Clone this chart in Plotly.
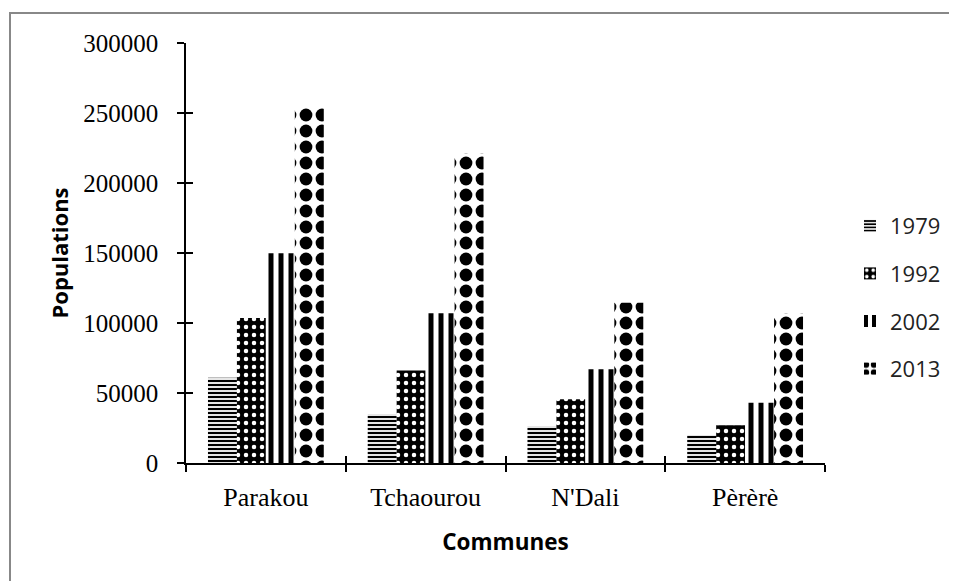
import plotly.graph_objects as go

communes = ["Parakou", "Tchaourou", "N'Dali", "Pèrèrè"]
years = ["1979", "1992", "2002", "2013"]
pop_1979 = [60900, 35000, 26500, 20000]
pop_1992 = [103500, 66000, 45500, 27000]
pop_2002 = [149800, 107000, 67000, 43000]
pop_2013 = [254500, 221000, 114500, 106800]
y_ticks = [0, 50000, 100000, 150000, 200000, 250000, 300000]

series = [pop_1979, pop_1992, pop_2002, pop_2013]
patterns = [
    dict(shape="-", fgcolor="black", bgcolor="white", size=4, solidity=0.55, fgopacity=1),
    dict(shape=".", fgcolor="white", bgcolor="black", size=8, solidity=0.25, fgopacity=1),
    dict(shape="|", fgcolor="black", bgcolor="white", size=10, solidity=0.5, fgopacity=1),
    dict(shape=".", fgcolor="black", bgcolor="white", size=16, solidity=0.5, fgopacity=1),
]

fig = go.Figure()
for yr, vals, pat in zip(years, series, patterns):
    fig.add_trace(go.Bar(
        x=communes, y=vals, name=yr, legendgroup=yr,
        marker=dict(color="white", pattern=pat, line=dict(width=0)),
    ))

# overlay axes to produce crossing ticks
fig.add_trace(go.Scatter(x=[None], y=[None], xaxis="x2", yaxis="y2",
                         showlegend=False, hoverinfo="skip", mode="markers"))

# page body has an 8px margin: work in figure coordinates = page coordinates - 8
OFF = 8
W, H = 957 - OFF, 581 - OFF
L, T = 186 - OFF, 43 - OFF
R = W - (825 - OFF)
B = H - (463 - OFF)
pw, ph = W - L - R, H - T - B

def px_x(x):
    return (x - 186) / pw

def px_y(y):
    return (463 - y) / ph

fig.update_layout(
    width=W, height=H,
    margin=dict(l=L, r=R, t=T, b=B, autoexpand=False),
    paper_bgcolor="white", plot_bgcolor="white",
    bargap=0.275, bargroupgap=0,
    showlegend=True,
    legend=dict(
        x=px_x(850), xanchor="left",
        y=px_y(205), yanchor="top",
        font=dict(family="Open Sans", size=22, color="#222"),
        tracegroupgap=16, bgcolor="rgba(0,0,0,0)",
        itemwidth=30,
    ),
    xaxis=dict(
        type="category", categoryarray=communes, range=[-0.5, 3.5],
        showline=True, linecolor="black", linewidth=1.5,
        ticks="outside", tickson="boundaries", ticklen=7, tickwidth=1.5, tickcolor="black",
        tickfont=dict(family="Liberation Serif", size=26, color="black"),
        ticklabelstandoff=10,
        showgrid=False, zeroline=False,
        title=dict(text="<b>Communes</b>", font=dict(family="Open Sans", size=22.5, color="black"),
                   standoff=23),
    ),
    yaxis=dict(
        range=[0, 300000], tickvals=y_ticks, ticktext=[str(v) for v in y_ticks],
        showline=True, linecolor="black", linewidth=1.5,
        ticks="outside", ticklen=7, tickwidth=1.5, tickcolor="black",
        tickfont=dict(family="Liberation Serif", size=25, color="black"),
        ticklabelstandoff=14,
        showgrid=False, zeroline=False,
        title=dict(text="<b>Populations</b>", font=dict(family="Open Sans", size=22, color="black"),
                   standoff=9),
    ),
    xaxis2=dict(
        overlaying="x", range=[-0.5, 3.5], tickvals=[-0.5, 0.5, 1.5, 2.5, 3.5],
        ticks="inside", ticklen=7, tickwidth=1.5, tickcolor="black",
        showticklabels=False, showline=False, showgrid=False, zeroline=False,
        anchor="y2", side="bottom",
    ),
    yaxis2=dict(
        overlaying="y", range=[0, 300000], tickvals=y_ticks,
        ticks="inside", ticklen=7, tickwidth=1.5, tickcolor="black",
        showticklabels=False, showline=False, showgrid=False, zeroline=False,
        anchor="x2", side="left",
    ),
    shapes=[dict(
        type="rect", xref="paper", yref="paper",
        x0=px_x(10), x1=px_x(956),
        y0=px_y(640), y1=px_y(13),
        line=dict(color="#888888", width=2), fillcolor="rgba(0,0,0,0)", layer="below",
    )],
)

fig.write_html("out.html")
